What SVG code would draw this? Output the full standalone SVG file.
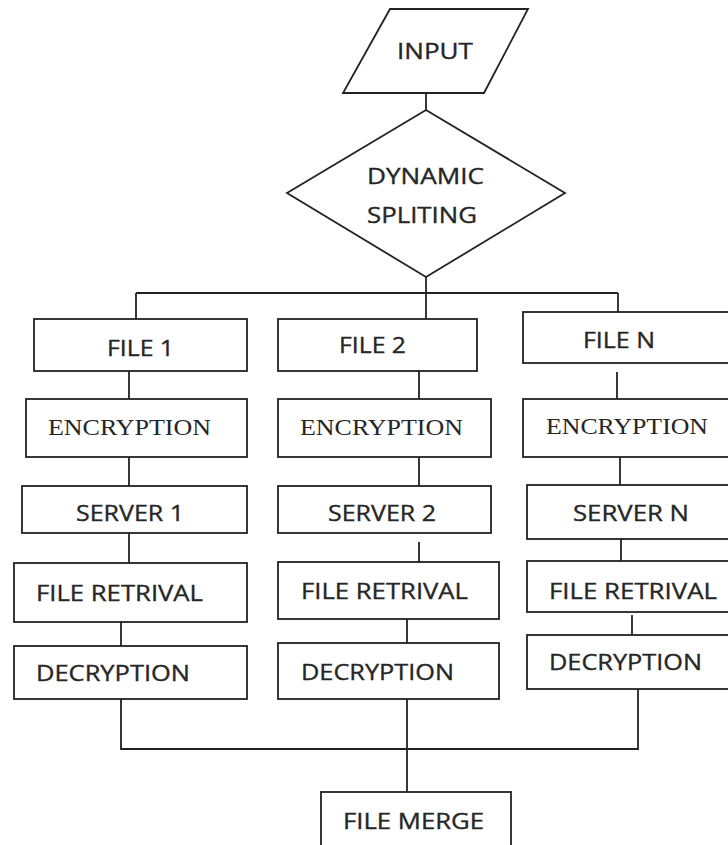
<svg xmlns="http://www.w3.org/2000/svg" width="728" height="845" viewBox="0 0 728 845">
<style>
.s{fill:#fff;stroke:#222;stroke-width:1.8}
.c{fill:none;stroke:#222;stroke-width:1.8}
.t{font-family:"Open Sans","Noto Sans","Liberation Sans",sans-serif;font-size:22px;fill:#262626;stroke:#262626;stroke-width:0.35}
.r{font-family:"Liberation Serif","Times New Roman",serif;font-size:23px;fill:#262626}
</style>
<rect width="728" height="845" fill="#fff"/>
<g id="connectors">
<path class="c" d="M426 93V110"/>
<path class="c" d="M426 268V319"/>
<path class="c" d="M136 293H618"/>
<path class="c" d="M136 293V319"/>
<path class="c" d="M618 293V312"/>
<path class="c" d="M129 371V399"/>
<path class="c" d="M129 457V486"/>
<path class="c" d="M129 533V563"/>
<path class="c" d="M121 622V646"/>
<path class="c" d="M419 371V399"/>
<path class="c" d="M419 457V486"/>
<path class="c" d="M419 542V562"/>
<path class="c" d="M407 619V643"/>
<path class="c" d="M617 372V399"/>
<path class="c" d="M620 452V485"/>
<path class="c" d="M621 539V561"/>
<path class="c" d="M632 615V635"/>
<path class="c" d="M121 699V749H638V689"/>
<path class="c" d="M407 699V792"/>
</g>
<g id="input">
<polygon class="s" points="390,9 528,9 484,93 343,93"/>
<text class="t" x="397" y="59" textLength="76" lengthAdjust="spacingAndGlyphs">INPUT</text>
</g>
<g id="split">
<polygon class="s" points="426,110 565,193 426,277 287,193"/>
<text class="t" x="367" y="184" textLength="117" lengthAdjust="spacingAndGlyphs">DYNAMIC</text>
<text class="t" x="367" y="223" textLength="110" lengthAdjust="spacingAndGlyphs">SPLITING</text>
</g>
<g id="file1">
<rect class="s" x="34" y="319" width="213" height="52"/>
<text class="t" x="107" y="356" textLength="67" lengthAdjust="spacingAndGlyphs">FILE 1</text>
</g>
<g id="enc1">
<rect class="s" x="26" y="399" width="221" height="58"/>
<text class="r" x="48" y="435" textLength="163" lengthAdjust="spacingAndGlyphs">ENCRYPTION</text>
</g>
<g id="server1">
<rect class="s" x="22" y="486" width="225" height="47"/>
<text class="t" x="76" y="521" textLength="108" lengthAdjust="spacingAndGlyphs">SERVER 1</text>
</g>
<g id="ret1">
<rect class="s" x="14" y="563" width="233" height="59"/>
<text class="t" x="36" y="601" textLength="167" lengthAdjust="spacingAndGlyphs">FILE RETRIVAL</text>
</g>
<g id="dec1">
<rect class="s" x="14" y="646" width="233" height="53"/>
<text class="t" x="36" y="681" textLength="154" lengthAdjust="spacingAndGlyphs">DECRYPTION</text>
</g>
<g id="file2">
<rect class="s" x="278" y="319" width="199" height="52"/>
<text class="t" x="339" y="353" textLength="67" lengthAdjust="spacingAndGlyphs">FILE 2</text>
</g>
<g id="enc2">
<rect class="s" x="278" y="399" width="213" height="58"/>
<text class="r" x="300" y="435" textLength="163" lengthAdjust="spacingAndGlyphs">ENCRYPTION</text>
</g>
<g id="server2">
<rect class="s" x="278" y="486" width="213" height="47"/>
<text class="t" x="328" y="521" textLength="108" lengthAdjust="spacingAndGlyphs">SERVER 2</text>
</g>
<g id="ret2">
<rect class="s" x="278" y="562" width="221" height="57"/>
<text class="t" x="301" y="599" textLength="167" lengthAdjust="spacingAndGlyphs">FILE RETRIVAL</text>
</g>
<g id="dec2">
<rect class="s" x="278" y="643" width="221" height="56"/>
<text class="t" x="301" y="680" textLength="153" lengthAdjust="spacingAndGlyphs">DECRYPTION</text>
</g>
<g id="fileN">
<rect class="s" x="523" y="312" width="215" height="51"/>
<text class="t" x="583" y="348" textLength="72" lengthAdjust="spacingAndGlyphs">FILE N</text>
</g>
<g id="encN">
<rect class="s" x="523" y="399" width="215" height="58"/>
<text class="r" x="546" y="434" textLength="162" lengthAdjust="spacingAndGlyphs">ENCRYPTION</text>
</g>
<g id="serverN">
<rect class="s" x="527" y="485" width="211" height="54"/>
<text class="t" x="573" y="521" textLength="116" lengthAdjust="spacingAndGlyphs">SERVER N</text>
</g>
<g id="retN">
<rect class="s" x="527" y="561" width="211" height="51"/>
<text class="t" x="549" y="599" textLength="168" lengthAdjust="spacingAndGlyphs">FILE RETRIVAL</text>
</g>
<g id="decN">
<rect class="s" x="527" y="635" width="211" height="54"/>
<text class="t" x="549" y="670" textLength="153" lengthAdjust="spacingAndGlyphs">DECRYPTION</text>
</g>
<g id="merge">
<rect class="s" x="321" y="792" width="190" height="60"/>
<text class="t" x="343" y="829" textLength="141" lengthAdjust="spacingAndGlyphs">FILE MERGE</text>
</g>
</svg>
